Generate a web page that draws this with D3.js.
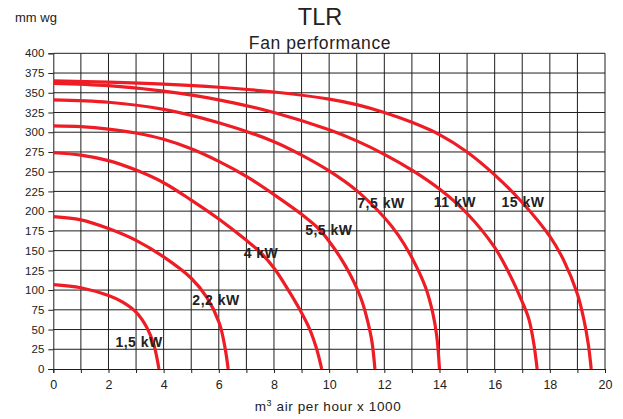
<!DOCTYPE html>
<html><head><meta charset="utf-8">
<script src="https://cdn.jsdelivr.net/npm/d3@7"></script>
<style>
html,body{margin:0;padding:0;background:#fff;}
svg{display:block;font-family:"Liberation Sans",Arial,sans-serif;}
</style></head>
<body>
<svg id="chart" width="623" height="419"></svg>
<script>
// ---- data ----
const seriesNames = ["1,5 kW","2,2 kW","4 kW","5,5 kW","7,5 kW","11 kW","15 kW"];
const s15 = [[0,107],[1,103],[2,93],[2.5,85],[3,72],[3.4,52],[3.65,30],[3.83,0]];
const s22 = [[0,193],[1,189],[2,178],[3,163],[4,142],[5,115],[5.56,91],[6.02,58],[6.22,28],[6.34,0]];
const s40 = [[0,274],[1,271],[2,264],[3,252],[4,236],[5,214],[6,190],[7,163],[7.5,148],[8,128],[8.52,100],[8.94,75],[9.3,50],[9.55,25],[9.73,0]];
const s55 = [[0,308],[1,307],[2,304],[3,299],[4,291],[5,279],[6,263],[7,244],[8,221],[9,196],[9.67,176],[10.2,152],[10.6,130],[10.9,110],[11.2,85],[11.4,60],[11.55,35],[11.66,0]];
const s75 = [[0,341],[2,338],[4,329],[6,312],[8,288],[9,271],[10,251],[11,226],[12,192],[12.5,170],[13,141],[13.5,103],[13.75,72],[13.9,42],[14,0]];
const s110 = [[0,362],[2,359],[4,352],[6,341],[8,325],[10,303],[11,289],[12,272],[13,252],[14,228],[15,197],[16,154],[16.5,123],[17,85],[17.25,62],[17.42,32],[17.54,0]];
const s150 = [[0,365],[2,363.5],[4,361],[6,357],[8,351],[10,342],[11,335],[12,325],[13,312.5],[14,297],[15,275],[16,246],[17,211],[18,168],[18.5,138],[19,95],[19.25,60],[19.4,30],[19.5,0]];
const seriesValues = [s15,s22,s40,s55,s75,s110,s150];
// label anchor points in data units (flow, pressure)
const labelAt = [[3.11,34],[5.9,88],[7.53,147],[9.99,176],[11.88,210],[14.56,212],[17.03,211]];
const xTickLabels = [0,2,4,6,8,10,12,14,16,18,20];
const yTickLabels = [0,25,50,75,100,125,150,175,200,225,250,275,300,325,350,375,400];

// ---- layout ----
const svg = d3.select("#chart");
const x = d3.scaleLinear().domain([0,20]).range([53.3,605]);
const y = d3.scaleLinear().domain([0,400]).range([369,53.3]);
const gridColor = "#1e1e1e";
const FF = "'Liberation Sans',Arial,sans-serif";

// grid
const g = svg.append("g");
g.selectAll("line.v").data(d3.range(1,21)).enter().append("line")
  .attr("x1",d=>x(d)).attr("x2",d=>x(d)).attr("y1",y(0)).attr("y2",y(400))
  .attr("stroke",gridColor).attr("stroke-width",1);
g.selectAll("line.h").data(yTickLabels.filter(v=>v>0)).enter().append("line")
  .attr("x1",x(0)).attr("x2",x(20)).attr("y1",d=>y(d)).attr("y2",d=>y(d))
  .attr("stroke",gridColor).attr("stroke-width",1);

// axes
const xAxis = d3.axisBottom(x).tickValues(d3.range(0,21)).tickSize(4).tickPadding(5)
  .tickFormat(d=> xTickLabels.includes(d) ? d : "");
const gx = svg.append("g").attr("transform",`translate(0,${y(0)})`).call(xAxis);
gx.select(".domain").attr("stroke",gridColor);
gx.selectAll(".tick line").attr("stroke",gridColor);
gx.selectAll("text").attr("font-size",12.5).attr("fill","#222").attr("dy","0.9em")
  .style("font-family",FF);

const yAxis = d3.axisLeft(y).tickValues(yTickLabels).tickSize(5).tickPadding(4);
const gy = svg.append("g").attr("transform",`translate(${x(0)},0)`).call(yAxis);
gy.select(".domain").attr("stroke",gridColor);
gy.selectAll(".tick line").attr("stroke",gridColor);
gy.selectAll("text").attr("font-size",11.5).attr("fill","#222")
  .style("font-family",FF);

// curves
const line = d3.line().x(d=>x(d[0])).y(d=>y(d[1])).curve(d3.curveCatmullRom.alpha(0.5));
svg.append("g").selectAll("path").data(seriesValues).enter().append("path")
  .attr("d",line).attr("fill","none").attr("stroke","#ee1c25")
  .attr("stroke-width",3.2).attr("stroke-linecap","butt");

// curve labels
svg.append("g").selectAll("text").data(seriesNames).enter().append("text")
  .attr("x",(d,i)=>x(labelAt[i][0])).attr("y",(d,i)=>y(labelAt[i][1]))
  .attr("text-anchor","middle").attr("dominant-baseline","central")
  .attr("font-size",14).attr("font-weight","bold").attr("fill","#222")
  .attr("letter-spacing",0.5)
  .text(d=>d);

// titles
svg.append("text").attr("x",320).attr("y",25).attr("text-anchor","middle")
  .attr("font-size",23.5).attr("fill","#222").text("TLR");
svg.append("text").attr("x",320).attr("y",48.5).attr("text-anchor","middle")
  .attr("font-size",17.5).attr("letter-spacing",0.6).attr("fill","#222").text("Fan performance");
svg.append("text").attr("x",15).attr("y",22).attr("font-size",13).attr("fill","#222").text("mm wg");
const xl = svg.append("text").attr("x",328).attr("y",410.5).attr("text-anchor","middle")
  .attr("font-size",13.5).attr("letter-spacing",0.6).attr("fill","#222");
xl.append("tspan").text("m");
xl.append("tspan").attr("font-size",9).attr("dy",-5).text("3");
xl.append("tspan").attr("dy",5).text(" air per hour x 1000");
</script>
</body></html>
